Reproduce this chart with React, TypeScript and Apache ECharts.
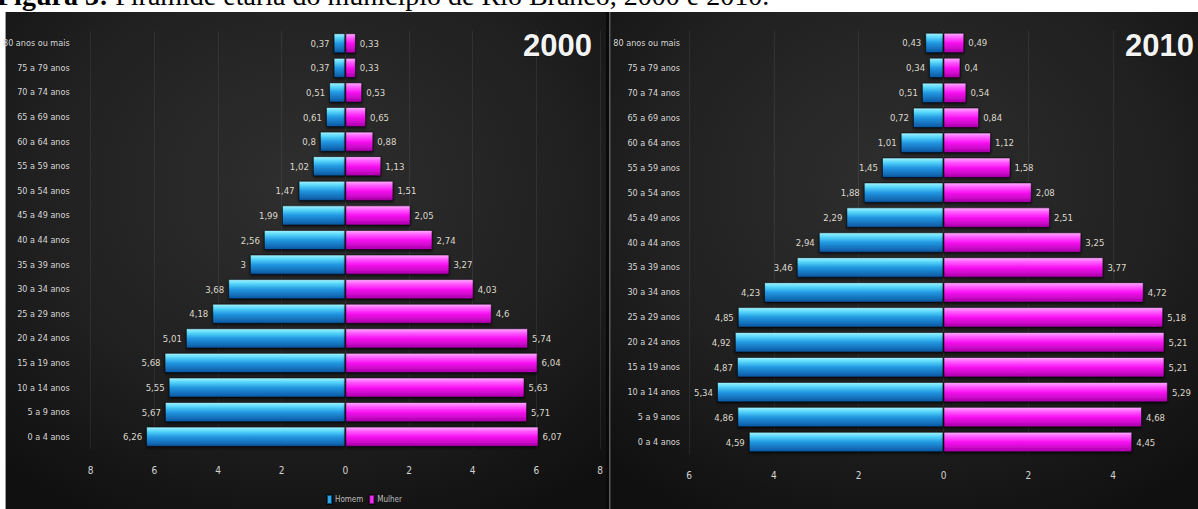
import { useEffect, useRef } from "react";
import * as echarts from "echarts";

// Age groups, bottom (youngest) to top (oldest)
const ageGroups = [
  "0 a 4 anos", "5 a 9 anos", "10 a 14 anos", "15 a 19 anos", "20 a 24 anos",
  "25 a 29 anos", "30 a 34 anos", "35 a 39 anos", "40 a 44 anos", "45 a 49 anos",
  "50 a 54 anos", "55 a 59 anos", "60 a 64 anos", "65 a 69 anos", "70 a 74 anos",
  "75 a 79 anos", "80 anos ou mais",
];

const men2000 = [6.26, 5.67, 5.55, 5.68, 5.01, 4.18, 3.68, 3, 2.56, 1.99, 1.47, 1.02, 0.8, 0.61, 0.51, 0.37, 0.37];
const women2000 = [6.07, 5.71, 5.63, 6.04, 5.74, 4.6, 4.03, 3.27, 2.74, 2.05, 1.51, 1.13, 0.88, 0.65, 0.53, 0.33, 0.33];
const men2010 = [4.59, 4.86, 5.34, 4.87, 4.92, 4.85, 4.23, 3.46, 2.94, 2.29, 1.88, 1.45, 1.01, 0.72, 0.51, 0.34, 0.43];
const women2010 = [4.45, 4.68, 5.29, 5.21, 5.21, 5.18, 4.72, 3.77, 3.25, 2.51, 2.08, 1.58, 1.12, 0.84, 0.54, 0.4, 0.49];

const legendNames = ["Homem", "Mulher"];
const panelYears = ["2000", "2010"];
const caption = "Pirâmide etária do município de Rio Branco, 2000 e 2010.";
const captionLabel = "Figura 3:";

const NARROW = '"Liberation Sans Narrow", "DejaVu Sans Condensed", sans-serif';
const SERIF = '"Liberation Serif", "Times New Roman", serif';

export default function App() {
  const ref = useRef<HTMLDivElement>(null);

  useEffect(() => {
    const el = ref.current;
    if (!el) return;
    const chart = echarts.init(el, null, { renderer: "svg" });

    const blue = new echarts.graphic.LinearGradient(0, 0, 0, 1, [
      { offset: 0, color: "#a8f4ff" },
      { offset: 0.22, color: "#55d6fa" },
      { offset: 0.5, color: "#2398e2" },
      { offset: 1, color: "#0b55a0" },
    ]);
    const pink = new echarts.graphic.LinearGradient(0, 0, 0, 1, [
      { offset: 0, color: "#ffb0ff" },
      { offset: 0.22, color: "#ff5cff" },
      { offset: 0.5, color: "#f812f2" },
      { offset: 1, color: "#a800a8" },
    ]);

    const fmt = (p: any) => String(Math.abs(p.value)).replace(".", ",");
    const labelStyle = {
      show: true,
      color: "#ddd8cc",
      fontSize: 9.5,
      fontFamily: NARROW,
      formatter: fmt,
      distance: 4,
    };

    const makeSeries = (name: string, data: number[], idx: number, left: boolean) => ({
      name,
      type: "bar",
      stack: "pyr" + idx,
      xAxisIndex: idx,
      yAxisIndex: idx,
      data: left ? data.map((v) => -v) : data,
      barWidth: "82%",
      itemStyle: {
        color: left ? blue : pink,
        borderColor: "rgba(0,0,0,0.55)",
        borderWidth: 1,
        shadowColor: "rgba(0,0,0,0.7)",
        shadowBlur: 3,
        shadowOffsetY: 1.5,
      },
      label: { ...labelStyle, position: left ? "left" : "right" },
    });

    const bg = (x: number, w: number) => ({
      type: "rect",
      z: -10,
      silent: true,
      shape: { x, y: 12, width: w, height: 497 },
      style: {
        fill: new echarts.graphic.RadialGradient(0.5, 0.35, 0.75, [
          { offset: 0, color: "#2f2f2f" },
          { offset: 0.6, color: "#202020" },
          { offset: 1, color: "#101010" },
        ]),
      },
    });

    const xAxisCommon = {
      type: "value",
      interval: 2,
      axisLine: { show: false },
      axisTick: { show: false },
      splitLine: { show: true, lineStyle: { color: "rgba(255,255,255,0.07)", width: 1 } },
      axisLabel: {
        color: "#d4d4d4",
        fontSize: 10,
        fontFamily: NARROW,
        margin: 16,
        formatter: (v: number) => String(Math.abs(v)),
      },
    };
    const yAxisCommon = {
      type: "category",
      data: ageGroups,
      axisLine: { show: false, onZero: false },
      axisTick: { show: false },
      splitLine: { show: false },
    };

    const yearText = (x: number, text: string) => ({
      type: "text",
      z: 10,
      silent: true,
      x,
      y: 45,
      style: {
        text,
        fontFamily: '"Liberation Sans", Arial, sans-serif',
        fontSize: 31,
        fontWeight: "bold",
        fill: "#f4f4f4",
        align: "right",
        verticalAlign: "middle",
        stroke: "rgba(0,0,0,0.5)",
        lineWidth: 1,
      },
    });

    chart.setOption({
      animation: false,
      backgroundColor: "#ffffff",
      grid: [
        { left: 90, width: 510, top: 31, height: 418 },
        { left: 689, width: 512, top: 30.5, height: 424 },
      ],
      xAxis: [
        { ...xAxisCommon, gridIndex: 0, min: -8, max: 8 },
        { ...xAxisCommon, gridIndex: 1, min: -6, max: 6, axisLabel: { ...xAxisCommon.axisLabel, showMaxLabel: false } },
      ],
      yAxis: [
        { ...yAxisCommon, gridIndex: 0, axisLabel: { color: "#d6d6d6", fontSize: 9, fontFamily: NARROW, margin: 21 } },
        { ...yAxisCommon, gridIndex: 1, axisLabel: { color: "#d6d6d6", fontSize: 9, fontFamily: NARROW, margin: 9 } },
      ],
      legend: {
        data: [
          { name: legendNames[0], itemStyle: { color: "#2aa6ee" } },
          { name: legendNames[1], itemStyle: { color: "#ff2aff" } },
        ],
        left: 321,
        top: 489,
        itemWidth: 5,
        itemHeight: 9,
        itemGap: 5,
        icon: "rect",
        textStyle: { color: "#bdbdbd", fontSize: 8, fontFamily: NARROW, padding: [0, 0, 0, -2] },
      },
      graphic: [
        {
          type: "text",
          z: -20,
          silent: true,
          x: -3,
          y: 9.5,
          style: {
            text: "{b|" + captionLabel + "}{r| " + caption + "}",
            fontFamily: SERIF,
            fontSize: 28,
            fill: "#000",
            verticalAlign: "bottom",
            rich: {
              b: { fontWeight: "bold", fontFamily: SERIF, fontSize: 28, fill: "#000" },
              r: { fontWeight: "normal", fontFamily: SERIF, fontSize: 28, fill: "#000" },
            },
          },
        },
        bg(5, 601),
        bg(609, 589),
        { type: "rect", z: -9, silent: true, shape: { x: 5, y: 12, width: 1, height: 497 }, style: { fill: "#9a9a9a" } },
        { type: "rect", z: -9, silent: true, shape: { x: 606, y: 12, width: 3, height: 497 }, style: { fill: "#0a0a0a" } },
        { type: "rect", z: -9, silent: true, shape: { x: 609, y: 12, width: 1.5, height: 497 }, style: { fill: "#5a5a5a" } },
        yearText(592, panelYears[0]),
        yearText(1194, panelYears[1]),
      ],
      series: [
        makeSeries(legendNames[0], men2000, 0, true),
        makeSeries(legendNames[1], women2000, 0, false),
        makeSeries(legendNames[0], men2010, 1, true),
        makeSeries(legendNames[1], women2010, 1, false),
      ],
    });

    return () => chart.dispose();
  }, []);

  return (
    <div
      ref={ref}
      style={{ position: "absolute", left: 0, top: 0, width: 1198, height: 509 }}
    />
  );
}
